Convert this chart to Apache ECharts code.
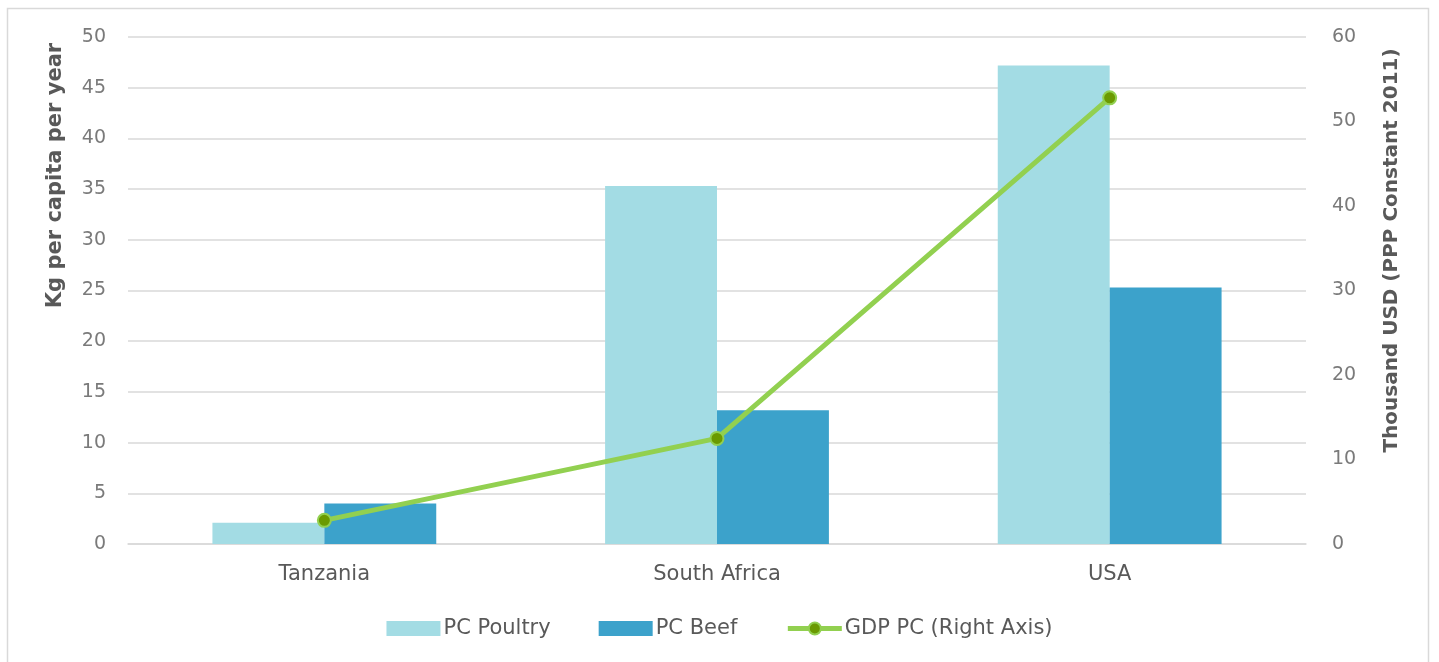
<!DOCTYPE html>
<html>
<head>
<meta charset="utf-8">
<script src="https://cdn.jsdelivr.net/npm/echarts@6/dist/echarts.min.js"></script>
<style>
  html, body { margin: 0; padding: 0; background: #fff; }
  #chart { width: 1439px; height: 662px; }
</style>
</head>
<body>
<div id="chart"></div>
<script>
// data
const countries = ['Tanzania', 'South Africa', 'USA'];
const poultry = [2.1, 35.3, 47.2];
const beef = [4.0, 13.2, 25.3];
const gdp = [2.8, 12.5, 52.8];

const FONT = '"DejaVu Sans", sans-serif';
const TEXT = '#595959';
const TICK = '#7a7a7a';

const myChart = echarts.init(document.getElementById('chart'));

const option = {
  animation: false,
  textStyle: { fontFamily: FONT },
  graphic: [{
    type: 'rect',
    shape: { x: 7.5, y: 8.5, width: 1421, height: 660 },
    style: { fill: 'none', stroke: '#d9d9d9', lineWidth: 1.5 },
    silent: true
  }],
  grid: { left: 128, right: 133, top: 37, bottom: 118 },
  legend: {
    bottom: 18,
    left: 'center',
    itemWidth: 54,
    itemHeight: 15,
    itemGap: 48,
    textStyle: { fontSize: 21, color: TEXT, fontFamily: FONT, padding: [0, 0, 0, -2] },
    data: [
      { name: 'PC Poultry', icon: 'rect' },
      { name: 'PC Beef', icon: 'rect' },
      { name: 'GDP PC (Right Axis)', lineStyle: { width: 5, color: '#92d050' } }
    ]
  },
  xAxis: {
    type: 'category',
    data: countries,
    axisLine: { show: true, lineStyle: { color: '#d9d9d9', width: 1.5 } },
    axisTick: { show: false },
    axisLabel: { fontSize: 21, color: TEXT, margin: 20, fontFamily: FONT }
  },
  yAxis: [
    {
      type: 'value',
      min: 0, max: 50, interval: 5,
      name: 'Kg per capita per year',
      nameLocation: 'middle',
      nameGap: 62,
      nameTextStyle: {
        fontSize: 21, fontWeight: 'bold', color: TEXT, fontFamily: FONT,
        padding: [0, 0, 0, 230]
      },
      axisLine: { show: false },
      axisTick: { show: false },
      axisLabel: { fontSize: 19, color: TICK, margin: 22, fontFamily: FONT },
      splitLine: { lineStyle: { color: '#d9d9d9', width: 1.5 } }
    },
    {
      type: 'value',
      min: 0, max: 60, interval: 10,
      name: 'Thousand USD (PPP Constant 2011)',
      nameLocation: 'middle',
      nameGap: 76,
      nameRotate: 90,
      nameTextStyle: {
        fontSize: 20, fontWeight: 'bold', color: TEXT, fontFamily: FONT,
        padding: [0, 0, 0, 80]
      },
      axisLine: { show: false },
      axisTick: { show: false },
      axisLabel: { fontSize: 19, color: TICK, margin: 26, fontFamily: FONT },
      splitLine: { show: false }
    }
  ],
  series: [
    {
      name: 'PC Poultry',
      type: 'bar',
      data: poultry,
      barGap: '0%',
      barCategoryGap: '43%',
      itemStyle: { color: '#a3dce4' }
    },
    {
      name: 'PC Beef',
      type: 'bar',
      data: beef,
      itemStyle: { color: '#3ca2cb' }
    },
    {
      name: 'GDP PC (Right Axis)',
      type: 'line',
      yAxisIndex: 1,
      data: gdp,
      symbol: 'circle',
      symbolSize: 13,
      lineStyle: { color: '#92d050', width: 5 },
      itemStyle: { color: '#6a9a00', borderColor: '#92d050', borderWidth: 2 },
      z: 5
    }
  ]
};

myChart.setOption(option);
</script>
</body>
</html>
